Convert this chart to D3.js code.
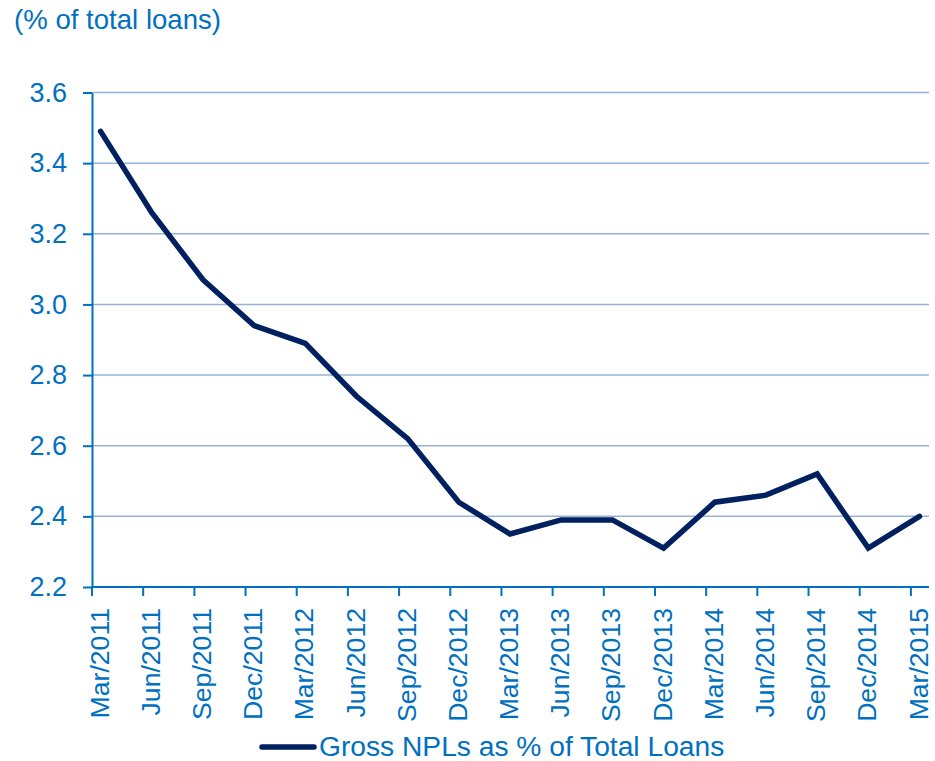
<!DOCTYPE html>
<html>
<head>
<meta charset="utf-8">
<script src="https://cdn.jsdelivr.net/npm/d3@7"></script>
<style>
  body { margin: 0; background: #fff; }
  text { font-family: "Liberation Sans", Arial, sans-serif; fill: #0070C0; }
</style>
</head>
<body>
<div id="chart"></div>
<script>
const quarters = ["Mar/2011", "Jun/2011", "Sep/2011", "Dec/2011", "Mar/2012", "Jun/2012",
  "Sep/2012", "Dec/2012", "Mar/2013", "Jun/2013", "Sep/2013", "Dec/2013",
  "Mar/2014", "Jun/2014", "Sep/2014", "Dec/2014", "Mar/2015"];
const npl_ratio = [3.49, 3.26, 3.07, 2.94, 2.89, 2.74, 2.62, 2.44, 2.35, 2.39, 2.39, 2.31,
  2.44, 2.46, 2.52, 2.31, 2.40];
const y_ticks = [2.2, 2.4, 2.6, 2.8, 3.0, 3.2, 3.4, 3.6];
const series_name = "Gross NPLs as % of Total Loans";

const WIDTH = 935,
  HEIGHT = 761,
  AXIS_LEFT = 92,
  AXIS_RIGHT = 929,
  TICK_SHIFT = 8.6; // category ticks sit a bit left of the points

var svg = d3.select("#chart")
  .append("svg")
  .attr("width", WIDTH)
  .attr("height", HEIGHT);

var x = d3.scalePoint().domain(quarters).range([100.6, 919.5]);
var y = d3.scaleLinear().domain([2.2, 3.6]).range([587, 92.5]);

// unit label
svg.append("text")
  .attr("x", 14)
  .attr("y", 29)
  .style("font-size", "27.6px")
  .text("(% of total loans)");

// gridlines
svg.append("g")
  .selectAll("line")
  .data(y_ticks.filter(function(d) { return d > 2.2; }))
  .enter()
  .append("line")
  .attr("x1", AXIS_LEFT)
  .attr("x2", AXIS_RIGHT)
  .attr("y1", function(d) { return y(d); })
  .attr("y2", function(d) { return y(d); })
  .attr("stroke", "#95B3D7")
  .attr("stroke-width", 1.5);

// y axis
var y_axis = svg.append("g")
  .attr("transform", "translate(" + AXIS_LEFT + ",0)")
  .call(d3.axisLeft(y).tickValues(y_ticks).tickFormat(d3.format(".1f")).tickSizeInner(9).tickSizeOuter(0).tickPadding(16));
y_axis.select(".domain").attr("stroke", "#0070C0").attr("stroke-width", 2);
y_axis.selectAll(".tick line").attr("stroke", "#0070C0").attr("stroke-width", 2);
y_axis.selectAll(".tick text")
  .attr("fill", "#0070C0")
  .style("font-size", "27px")
  .style("font-family", "'Liberation Sans', Arial, sans-serif");

// x axis line
svg.append("line")
  .attr("x1", AXIS_LEFT - 1)
  .attr("x2", AXIS_RIGHT)
  .attr("y1", y(2.2))
  .attr("y2", y(2.2))
  .attr("stroke", "#0070C0")
  .attr("stroke-width", 2);

// x ticks
svg.append("g")
  .selectAll("line")
  .data(quarters)
  .enter()
  .append("line")
  .attr("x1", function(d) { return x(d) - TICK_SHIFT; })
  .attr("x2", function(d) { return x(d) - TICK_SHIFT; })
  .attr("y1", y(2.2))
  .attr("y2", y(2.2) + 9)
  .attr("stroke", "#0070C0")
  .attr("stroke-width", 2);

// x labels, rotated
svg.append("g")
  .selectAll("text")
  .data(quarters)
  .enter()
  .append("text")
  .attr("transform", function(d) {
    return "translate(" + (x(d) - 1.5) + "," + 608 + ") rotate(-90)";
  })
  .attr("text-anchor", "end")
  .attr("dy", "0.36em")
  .style("font-size", "26.6px")
  .text(function(d) { return d; });

// series line
var line = d3.line()
  .x(function(d, i) { return x(quarters[i]); })
  .y(function(d) { return y(d); });

svg.append("path")
  .datum(npl_ratio)
  .attr("d", line)
  .attr("fill", "none")
  .attr("stroke", "#002060")
  .attr("stroke-width", 5.5)
  .attr("stroke-linejoin", "miter")
  .attr("stroke-linecap", "round");

// legend
svg.append("line")
  .attr("x1", 262)
  .attr("x2", 314)
  .attr("y1", 747)
  .attr("y2", 747)
  .attr("stroke", "#002060")
  .attr("stroke-width", 5.5)
  .attr("stroke-linecap", "round");

svg.append("text")
  .attr("x", 319)
  .attr("y", 756)
  .style("font-size", "28.2px")
  .text(series_name);
</script>
</body>
</html>
